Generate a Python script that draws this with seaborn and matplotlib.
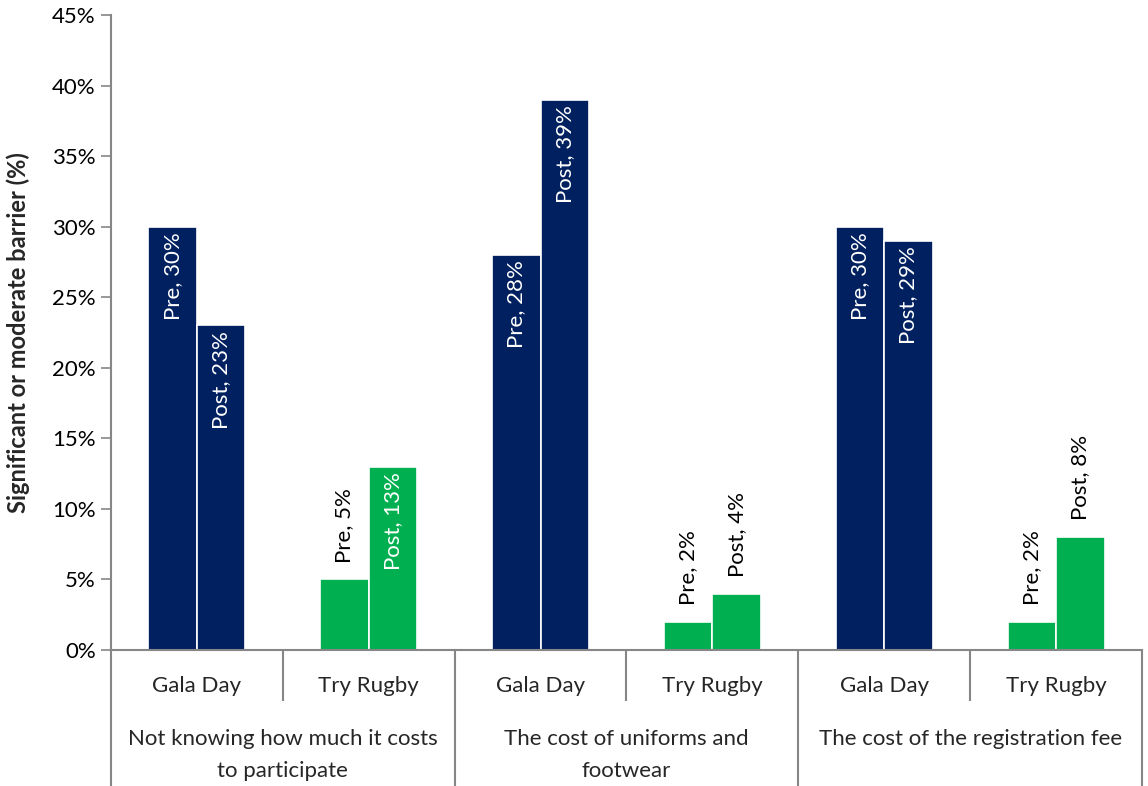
import matplotlib
matplotlib.use("Agg")
import matplotlib.pyplot as plt
import matplotlib.transforms as mtransforms
import numpy as np
import pandas as pd
import seaborn as sns

# Barrier categories and the programme groups within each
categories = ["Not knowing how much it costs\nto participate",
              "The cost of uniforms and\nfootwear",
              "The cost of the registration fee"]
programmes = ["Gala Day", "Try Rugby"]
timepoints = ["Pre", "Post"]

# Percentage reporting a significant or moderate barrier
pre_values = [30, 5, 28, 2, 30, 2]
post_values = [23, 13, 39, 4, 29, 8]

yticks = [0, 5, 10, 15, 20, 25, 30, 35, 40, 45]

navy = "#002060"
green = "#00B050"
axis_grey = "#868686"
programme_colors = {"Gala Day": navy, "Try Rugby": green}

slots = [f"{c}|{p}" for c in range(len(categories)) for p in programmes]
slot_programme = [p for _ in categories for p in programmes]

df = pd.DataFrame({
    "slot": slots * 2,
    "time": ["Pre"] * len(slots) + ["Post"] * len(slots),
    "value": pre_values + post_values,
})

sns.set_theme(style="white")
plt.rcParams["font.family"] = ["Lato", "DejaVu Sans"]

FS = 16

fig = plt.figure(figsize=(11.48, 7.86), dpi=100)
ax = fig.add_axes([111 / 1148, 1 - 650 / 786, (1142 - 111) / 1148, (650 - 15) / 786])

sns.barplot(data=df, x="slot", y="value", hue="time", order=slots,
            hue_order=timepoints, width=0.565, ax=ax, legend=False,
            edgecolor="white", linewidth=1.2, saturation=1)

# Colour bars by programme and write value labels
for t_idx, cont in enumerate(ax.containers):
    vals = pre_values if t_idx == 0 else post_values
    for i, bar in enumerate(cont.patches):
        bar.set_facecolor(programme_colors[slot_programme[i]])
        v = vals[i]
        xc = bar.get_x() + bar.get_width() / 2
        label = f"{timepoints[t_idx]}, {v}%"
        if v >= 10:
            ax.annotate(label, xy=(xc, v), xytext=(0, -4), textcoords="offset points",
                        rotation=90, ha="center", va="top", color="white", fontsize=FS)
        else:
            ax.annotate(label, xy=(xc, v), xytext=(0, 12), textcoords="offset points",
                        rotation=90, ha="center", va="bottom", color="black", fontsize=FS)

ax.set_ylim(0, 45)
ax.set_xlim(-0.5, len(slots) - 0.5)
ax.set_yticks(yticks)
ax.set_yticklabels([f"{t}%" for t in yticks], fontsize=FS)
ax.set_xticks([])
ax.set_xlabel("")
ax.set_ylabel("Significant or moderate barrier (%)", fontsize=17, fontweight="bold")
ax.yaxis.set_label_coords(-0.079, 0.5)
ax.tick_params(axis="y", which="major", left=True, direction="out", length=7,
               width=1.2, color=axis_grey, pad=4, labelcolor="black")

for side in ["top", "right"]:
    ax.spines[side].set_visible(False)
for side in ["left", "bottom"]:
    ax.spines[side].set_color(axis_grey)
    ax.spines[side].set_linewidth(1.5)

trans = mtransforms.blended_transform_factory(ax.transData, ax.transAxes)

# Programme labels under each pair of bars
for i, p in enumerate(slot_programme):
    ax.text(i, -0.057, p, transform=trans, ha="center", va="center", fontsize=FS)

# Category labels under each pair of programmes
for c, name in enumerate(categories):
    ax.text(2 * c + 0.5, -0.125, name, transform=trans, ha="center", va="top",
            fontsize=FS, linespacing=1.7)

# Divider lines below the axis
for k in range(len(slots) + 1):
    xpos = k - 0.5
    y_end = -0.215 if k % 2 == 0 else -0.08
    ax.plot([xpos, xpos], [0, y_end], transform=trans, color=axis_grey,
            linewidth=1.5, clip_on=False, solid_capstyle="butt")

fig.savefig("out.png", dpi=100)
